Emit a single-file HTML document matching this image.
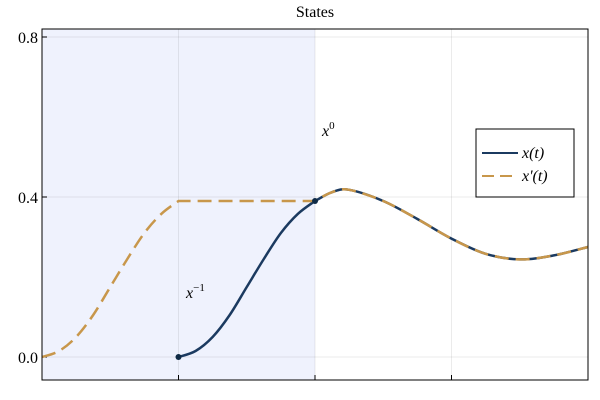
<!DOCTYPE html>
<html><head><meta charset="utf-8"><style>
body{margin:0;background:#fff;}
svg{display:block;font-family:"Liberation Serif",serif;}
</style></head><body>
<svg id="chart" width="600" height="400" viewBox="0 0 600 400">
<text x="315" y="17" text-anchor="middle" font-size="16">States</text>
<g id="plot"></g>
</svg>
<script>
const yTicks=[0.0,0.4,0.8];
const yTickLabels=["0.0","0.4","0.8"];
const xTicks=[-1,0,1];
const tSolid=[-1,-0.875,-0.75,-0.625,-0.5,-0.375,-0.25,-0.125,0,0.125,0.25,0.5,0.75,1,1.25,1.5,1.75,2];
const vSolid=[0,0.015,0.05,0.105,0.175,0.245,0.31,0.358,0.39,0.412,0.418,0.39,0.345,0.296,0.258,0.244,0.254,0.275];
const tDash=[-2,-1.875,-1.75,-1.625,-1.5,-1.375,-1.25,-1.125,-1,0,0.125,0.25,0.5,0.75,1,1.25,1.5,1.75,2];
const vDash=[0,0.015,0.05,0.105,0.175,0.245,0.31,0.358,0.39,0.39,0.412,0.418,0.39,0.345,0.296,0.258,0.244,0.254,0.275];
const markT=[-1,0];
const markV=[0,0.39];
const L=42,R=588,T=29,B=380;
const X=t=>L+(t+2)/4*(R-L);
const Y=v=>357-v*400;
const NS='http://www.w3.org/2000/svg';
const g=document.getElementById('plot');
function mk(tag,attrs,parent){const e=document.createElementNS(NS,tag);for(const k in attrs)e.setAttribute(k,attrs[k]);(parent||g).appendChild(e);return e;}
let e=mk('rect',{x:L,y:T,width:X(0)-L,height:B-T,fill:'#eff2fd'});


yTicks.forEach((v,i)=>{
 let gl=mk('line',{x1:L,x2:R,y1:Y(v),y2:Y(v),stroke:'#000','stroke-opacity':0.08});
 
 
 mk('line',{x1:L,x2:L+5,y1:Y(v),y2:Y(v),stroke:'#000'});
 let tx=mk('text',{x:L-4,y:Y(v)+6,'text-anchor':'end','font-size':16});
 tx.textContent=yTickLabels[i];
 
 
});
xTicks.forEach(t=>{
 let gl=mk('line',{x1:X(t),x2:X(t),y1:T,y2:B,stroke:'#000','stroke-opacity':0.08});
 
 
 mk('line',{x1:X(t),x2:X(t),y1:B,y2:B-5,stroke:'#000'});
});
function pathD(ts,vs,first){
 const p=ts.map((t,i)=>[X(t),Y(vs[i])]);let d=(first?'M':'L')+p[0][0]+','+p[0][1];
 for(let i=0;i<p.length-1;i++){
  const p0=p[Math.max(0,i-1)],p1=p[i],p2=p[i+1],p3=p[Math.min(p.length-1,i+2)];
  const c1=[p1[0]+(p2[0]-p0[0])/6,p1[1]+(p2[1]-p0[1])/6];
  const c2=[p2[0]-(p3[0]-p1[0])/6,p2[1]-(p3[1]-p1[1])/6];
  d+=' C'+c1[0]+','+c1[1]+' '+c2[0]+','+c2[1]+' '+p2[0]+','+p2[1];
 }return d;}
e=mk('path',{d:pathD(tSolid.slice(0,9),vSolid.slice(0,9),true)+' '+pathD(tSolid.slice(8),vSolid.slice(8),false),fill:'none',stroke:'#1b3a60','stroke-width':2.5});


e=mk('path',{d:pathD(tDash.slice(0,9),vDash.slice(0,9),true)+' '+pathD(tDash.slice(8,10),vDash.slice(8,10),false)+' '+pathD(tDash.slice(9),vDash.slice(9),false),fill:'none',stroke:'#c8974b','stroke-width':2.5,'stroke-dasharray':'14 7'});


markT.forEach((t,i)=>{
 let c=mk('circle',{cx:X(t),cy:Y(markV[i]),r:3,fill:'#0f2a45'});
 
 
});
mk('rect',{x:L,y:T,width:R-L,height:B-T,fill:'none',stroke:'#000','stroke-width':1});
function lbl(x,y,base,sup,name){
 let t=mk('text',{x:x,y:y,'font-size':16,'font-style':'italic'});
 t.innerHTML=base+'<tspan dy="-7" font-size="11" font-style="normal">'+sup+'</tspan>';
 
 
}
lbl(322,136,'x','0','annotation-x0');
lbl(186,298,'x','−1','annotation-x-1');
let lg=mk('g',{});


mk('rect',{x:476,y:129,width:98,height:68,fill:'#fff',stroke:'#000'},lg);
mk('line',{x1:482,x2:518,y1:153,y2:153,stroke:'#1b3a60','stroke-width':2},lg);
mk('line',{x1:482,x2:518,y1:176,y2:176,stroke:'#c8974b','stroke-width':2,'stroke-dasharray':'12 6'},lg);
let t1=mk('text',{x:522,y:158,'font-size':16,'font-style':'italic'},lg);t1.textContent='x(t)';


let t2=mk('text',{x:522,y:181,'font-size':16,'font-style':'italic'},lg);t2.textContent="x'(t)";


</script>
</body></html>
